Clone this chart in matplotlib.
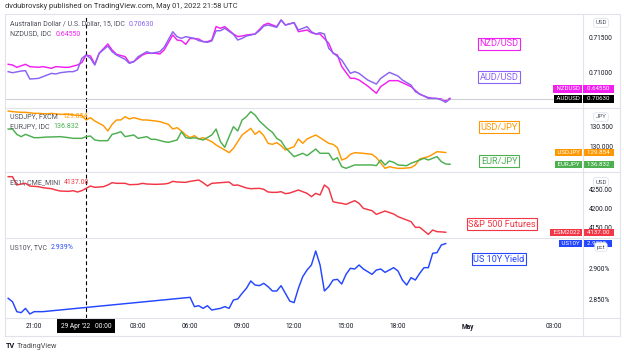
"""
TradingView style snapshot: AUD/NZD, USD/JPY & EUR/JPY, S&P 500 futures
and US 10Y yield on 15-minute bars, 28-29 Apr 2022.
"""

import matplotlib

matplotlib.use("Agg")
import matplotlib.pyplot as plt
from matplotlib.lines import Line2D
from matplotlib.patches import Rectangle
from matplotlib.ticker import FuncFormatter

plt.rcParams["font.family"] = ["Roboto", "DejaVu Sans"]

# 15-minute bar number, counted from 29 Apr '22 00:00 UTC
AUD_BARS = [-18, -17, -15, -14, -13, -11, -10, -8, -7, -6, -4, -3, -2, -1, 0, 1, 2, 3, 5, 6,
            7, 9, 10, 11, 12, 14, 15, 17, 18, 20, 21, 22, 23, 25, 26, 28, 29, 30, 31, 32,
            34, 35, 36, 37, 39, 40, 41, 42, 44, 45, 46, 48, 49, 51, 52, 53, 54, 55, 56, 57,
            59, 61, 62, 63, 65, 67, 68, 70, 72, 73, 75, 76, 78, 79, 81, 82, 83, 84]
AUD_VALUES = [0.71015, 0.71000, 0.71024, 0.71029, 0.70911, 0.70920, 0.70944, 0.70991, 0.70982, 0.71000,
              0.71015, 0.71015, 0.71038, 0.71203, 0.71250, 0.71203, 0.71109, 0.71273, 0.71377, 0.71297,
              0.71250, 0.71189, 0.71132, 0.71156, 0.71226, 0.71297, 0.71273, 0.71297, 0.71358, 0.71579,
              0.71509, 0.71485, 0.71509, 0.71485, 0.71452, 0.71429, 0.71448, 0.71593, 0.71593, 0.71627,
              0.71542, 0.71462, 0.71485, 0.71518, 0.71546, 0.71593, 0.71659, 0.71674, 0.71641, 0.71744,
              0.71674, 0.71706, 0.71603, 0.71650, 0.71579, 0.71546, 0.71565, 0.71546, 0.71344, 0.71283,
              0.71179, 0.70991, 0.71015, 0.70991, 0.70897, 0.70840, 0.70920, 0.71005, 0.70953, 0.70897,
              0.70826, 0.70732, 0.70671, 0.70638, 0.70638, 0.70615, 0.70582, 0.70630]

NZD_BARS = [-18, -17, -16, -14, -13, -11, -10, -8, -7, -5, -4, -2, -1, 0, 1, 2, 3, 5, 6, 7,
            9, 10, 11, 13, 14, 16, 17, 18, 20, 21, 22, 23, 24, 26, 27, 28, 29, 30, 31, 32,
            34, 35, 36, 37, 39, 41, 42, 44, 45, 46, 48, 49, 51, 52, 53, 54, 56, 57, 58, 59,
            61, 62, 63, 65, 67, 68, 70, 72, 73, 75, 77, 79, 80, 82, 83, 84]
NZD_VALUES = [0.64989, 0.64980, 0.64950, 0.64989, 0.64959, 0.64950, 0.64959, 0.64937, 0.64959, 0.64950,
              0.64950, 0.64980, 0.65010, 0.65109, 0.65096, 0.64989, 0.65131, 0.65251, 0.65173, 0.65118,
              0.65088, 0.65010, 0.65023, 0.65109, 0.65131, 0.65131, 0.65122, 0.65173, 0.65367, 0.65302,
              0.65294, 0.65247, 0.65324, 0.65315, 0.65281, 0.65281, 0.65302, 0.65475, 0.65453, 0.65475,
              0.65380, 0.65346, 0.65354, 0.65367, 0.65380, 0.65496, 0.65518, 0.65475, 0.65560, 0.65496,
              0.65526, 0.65410, 0.65431, 0.65397, 0.65380, 0.65380, 0.65260, 0.65131, 0.65109, 0.64959,
              0.64808, 0.64808, 0.64786, 0.64709, 0.64615, 0.64701, 0.64778, 0.64778, 0.64752, 0.64701,
              0.64602, 0.64559, 0.64550, 0.64541, 0.64520, 0.64550]

USDJPY_BARS = [-18, -17, -15, -14, -12, -11, -9, -8, -6, -4, -3, -1, 0, 1, 2, 4, 5, 6, 7, 8,
               9, 10, 11, 13, 14, 16, 17, 19, 20, 21, 22, 23, 24, 25, 26, 27, 29, 30, 32, 33,
               34, 35, 36, 38, 39, 40, 41, 42, 43, 44, 45, 46, 48, 49, 50, 51, 53, 54, 56, 57,
               58, 59, 60, 61, 62, 64, 66, 67, 69, 70, 71, 72, 73, 75, 76, 77, 79, 80, 81, 83]
USDJPY_VALUES = [130.893, 130.876, 130.859, 130.859, 130.834, 130.834, 130.818, 130.834, 130.809, 130.809,
                 130.793, 130.776, 130.668, 130.726, 130.643, 130.526, 130.393, 130.559, 130.668, 130.668,
                 130.751, 130.693, 130.726, 130.668, 130.668, 130.643, 130.626, 130.559, 130.443, 130.476,
                 130.393, 130.293, 130.226, 130.276, 130.193, 130.226, 130.126, 130.043, 129.918, 129.851,
                 129.959, 130.126, 130.293, 130.459, 130.309, 130.393, 130.276, 130.084, 130.059, 130.101,
                 130.026, 129.918, 130.001, 130.193, 130.084, 130.193, 130.293, 130.226, 130.084, 130.059,
                 129.976, 129.668, 129.709, 129.809, 129.851, 129.834, 129.809, 129.726, 129.459, 129.501,
                 129.476, 129.459, 129.459, 129.476, 129.543, 129.693, 129.751, 129.809, 129.876, 129.854]

EURJPY_BARS = [-18, -17, -16, -15, -14, -12, -11, -9, -8, -6, -4, -3, -1, 0, 1, 2, 3, 5, 6, 7,
               8, 9, 11, 12, 14, 15, 16, 18, 19, 21, 22, 23, 24, 25, 27, 29, 30, 31, 32, 33,
               34, 35, 36, 37, 38, 39, 40, 42, 43, 44, 45, 46, 48, 49, 50, 51, 53, 54, 56, 57,
               58, 59, 60, 61, 62, 64, 66, 67, 68, 69, 70, 71, 72, 74, 75, 77, 78, 79, 81, 82,
               83, 84]
EURJPY_VALUES = [137.760, 137.760, 137.620, 137.559, 137.620, 137.532, 137.532, 137.550, 137.550, 137.559,
                 137.532, 137.515, 137.515, 137.559, 137.576, 137.471, 137.453, 137.453, 137.620, 137.647,
                 137.690, 137.559, 137.603, 137.515, 137.559, 137.489, 137.489, 137.427, 137.410, 137.471,
                 137.690, 137.532, 137.515, 137.532, 137.471, 137.603, 137.760, 137.427, 137.278, 137.559,
                 137.822, 137.708, 137.997, 138.085, 138.216, 138.129, 137.971, 137.760, 137.673, 137.515,
                 137.445, 137.269, 137.033, 137.077, 137.121, 137.059, 137.234, 137.121, 137.121, 136.945,
                 137.006, 136.770, 136.726, 136.770, 136.814, 136.814, 136.814, 136.796, 136.945, 136.814,
                 136.919, 136.884, 136.814, 136.796, 136.858, 136.945, 136.989, 136.945, 137.033, 136.901,
                 136.840, 136.832]

ES_BARS = [-18, -17, -16, -15, -14, -13, -11, -10, -8, -7, -6, -4, -3, -2, -1, 0, 1, 2, 4, 5,
           6, 7, 9, 10, 12, 13, 14, 16, 18, 19, 20, 21, 23, 24, 26, 27, 28, 29, 31, 33,
           34, 35, 37, 38, 40, 41, 42, 43, 44, 45, 46, 47, 49, 50, 51, 52, 53, 54, 55, 56,
           57, 58, 59, 60, 62, 63, 64, 66, 67, 69, 71, 72, 73, 75, 76, 77, 79, 80, 81, 82, 83]
ES_VALUES = [4283.2, 4283.2, 4261.3, 4263.9, 4265.7, 4258.6, 4256.9, 4254.3, 4251.6, 4248.1,
             4245.5, 4244.6, 4246.4, 4242.9, 4246.4, 4252.5, 4258.6, 4255.2, 4256.9, 4261.3,
             4267.4, 4265.7, 4265.7, 4262.1, 4263.0, 4265.7, 4263.9, 4263.0, 4263.9, 4265.7,
             4270.9, 4269.2, 4268.3, 4270.9, 4274.4, 4267.4, 4258.6, 4265.7, 4267.4, 4269.2,
             4260.4, 4261.3, 4253.4, 4251.6, 4252.5, 4249.9, 4242.9, 4242.0, 4242.0, 4243.7,
             4238.5, 4240.2, 4248.1, 4243.7, 4239.4, 4230.6, 4239.4, 4235.0, 4261.3, 4252.5,
             4217.4, 4214.8, 4213.1, 4210.4, 4220.1, 4213.1, 4199.9, 4193.8, 4184.1, 4192.9,
             4185.0, 4178.0, 4173.6, 4164.8, 4150.0, 4150.0, 4131.5, 4142.9, 4138.5, 4138.0, 4137.0]

# the cash bond market has no prints overnight, so the line jumps from bar -10 to 24
US10Y_BARS = [-18, -17, -16, -15, -14, -13, -12, -10, 24, 25, 26, 27, 28, 29, 31, 32, 33, 34, 35, 36,
              37, 38, 39, 40, 41, 42, 43, 44, 45, 46, 47, 48, 49, 50, 51, 52, 53, 54, 55, 56,
              57, 58, 59, 60, 61, 62, 63, 64, 66, 67, 68, 69, 70, 71, 72, 73, 74, 75, 76, 77,
              78, 79, 80, 81, 82, 83]
US10Y_VALUES = [2.8526, 2.8473, 2.8316, 2.8300, 2.8368, 2.8279, 2.8316, 2.8316, 2.8542, 2.8395,
                2.8410, 2.8368, 2.8410, 2.8342, 2.8368, 2.8395, 2.8368, 2.8500, 2.8516, 2.8605,
                2.8684, 2.8800, 2.8736, 2.8726, 2.8763, 2.8710, 2.8642, 2.8642, 2.8726, 2.8605,
                2.8484, 2.8458, 2.8684, 2.8868, 2.8973, 2.9052, 2.9273, 2.9052, 2.8642, 2.8710,
                2.8815, 2.8826, 2.8752, 2.8905, 2.9000, 2.8989, 2.9052, 2.8989, 2.8905, 2.8973,
                2.8989, 2.8936, 2.8973, 2.9010, 2.8957, 2.8815, 2.8736, 2.8852, 2.8815, 2.8921,
                2.9010, 2.9010, 2.9236, 2.9247, 2.9368, 2.9390]

TIME_TICKS = [-12, 12, 24, 36, 48, 60, 72, 88, 108]
TIME_LABELS = ["21:00", "03:00", "06:00", "09:00", "12:00", "15:00", "18:00", "May", "03:00"]
CROSSHAIR_LABEL = "29 Apr '22   00:00"

W, H = 624, 354
PLOT_LEFT, PLOT_RIGHT = 6, 583
XLIM = (-18.5, 114.7)

TEXT = "#131722"
GREY = "#50535e"
BORDER = "#e0e3eb"
AUD_C = "#8a63f2"
NZD_C = "#f21ff0"
USDJPY_C = "#ff9800"
EURJPY_C = "#4caf50"
ES_C = "#f23645"
US10Y_C = "#2446ff"


def fx(px):
    return px / W


def fy(py):
    return 1 - py / H


def right_ticks(ax):
    # twinx() pushes the host's ticks to the left, so this is re-applied after overlays
    ax.yaxis.tick_right()
    ax.yaxis.set_label_position("right")
    ax.tick_params(axis="y", which="both", left=False, labelleft=False, right=True, labelright=True,
                   length=0, pad=4.3, labelsize=4.7, labelcolor=TEXT)


def make_pane(fig, top, bottom, ylim, ticks, fmt):
    ax = fig.add_axes([fx(PLOT_LEFT), fy(bottom), (PLOT_RIGHT - PLOT_LEFT) / W, (bottom - top) / H])
    ax.set_xlim(*XLIM)
    ax.set_ylim(*ylim)
    for s in ax.spines.values():
        s.set_visible(False)
    ax.set_yticks(ticks)
    ax.yaxis.set_major_formatter(FuncFormatter(lambda v, _: fmt.format(v)))
    right_ticks(ax)
    ax.tick_params(axis="x", length=0, bottom=False, labelbottom=False)
    ax.axvline(0, color="black", lw=0.8, ls=(0, (3.5, 2.5)), zorder=1)
    return ax


def overlay(ax, ylim):
    tw = ax.twinx()
    tw.set_xlim(*XLIM)
    tw.set_ylim(*ylim)
    tw.set_yticks([])
    for s in tw.spines.values():
        s.set_visible(False)
    right_ticks(ax)
    return tw


def price_tag(ax, value, name, text, color, dy=0):
    common = dict(xycoords=ax.get_yaxis_transform(), textcoords="offset points",
                  va="center", fontsize=4.4, color="white", annotation_clip=False, zorder=6)
    ax.annotate(f" {name} ", xy=(1, value), xytext=(-1.3, dy), ha="right",
                bbox=dict(boxstyle="square,pad=0.2", fc=color, ec="none"), **common)
    ax.annotate(f"  {text}  ", xy=(1, value), xytext=(1.0, dy), ha="left",
                bbox=dict(boxstyle="square,pad=0.2", fc=color, ec="none"), **common)


def legend_line(fig, ax, y, label, value, color):
    t = fig.text(fx(10), fy(y), label, fontsize=5.0, color=GREY, va="center")
    ax.annotate(value, xy=(1, 0.5), xycoords=t, xytext=(3, 0), textcoords="offset points",
                va="center", ha="left", fontsize=5.0, color=color, annotation_clip=False)


def tag_box(fig, x, y, text, color, size=6.6):
    fig.text(fx(x), fy(y), text, fontsize=size, color=color, ha="center", va="center", zorder=7,
             bbox=dict(boxstyle="square,pad=0.18", fc="white", ec=color, lw=0.8))


def unit_box(fig, y, text):
    fig.text(fx(601), fy(y), text, fontsize=4.4, color=GREY, ha="center", va="center", zorder=8,
             bbox=dict(boxstyle="round,pad=0.3,rounding_size=0.4", fc="white", ec=BORDER, lw=0.6))


def main():
    fig = plt.figure(figsize=(W / 100, H / 100), dpi=100)
    fig.patch.set_facecolor("white")

    # pane 1: AUD/USD with NZD/USD on a hidden overlay scale
    ax1 = make_pane(fig, 15, 108, (0.70502, 0.71815), [0.710, 0.715], "{:.5f}")
    ax1.axhline(AUD_VALUES[-1], color="#c3c6ce", lw=0.6, zorder=1)
    nz = overlay(ax1, (0.64425, 0.65625))
    nz.plot(NZD_BARS, NZD_VALUES, color=NZD_C, lw=1.05, zorder=3)
    ax1.set_zorder(nz.get_zorder() + 1)
    ax1.patch.set_visible(False)
    ax1.plot(AUD_BARS, AUD_VALUES, color=AUD_C, lw=1.05, zorder=3)
    price_tag(ax1, AUD_VALUES[-1], "AUDUSD", f"{AUD_VALUES[-1]:.5f}", "black")
    price_tag(ax1, AUD_VALUES[-1], "NZDUSD", f"{NZD_VALUES[-1]:.5f}", NZD_C, dy=7.3)

    # pane 2: USD/JPY with EUR/JPY overlay
    ax2 = make_pane(fig, 108, 172, (129.3675, 130.9675), [130.0, 130.5], "{:.3f}")
    ax2.plot(USDJPY_BARS, USDJPY_VALUES, color=USDJPY_C, lw=1.05, zorder=3)
    ej = overlay(ax2, (136.629, 138.313))
    ej.plot(EURJPY_BARS, EURJPY_VALUES, color=EURJPY_C, lw=1.05, zorder=3)
    price_tag(ax2, USDJPY_VALUES[-1], "USDJPY", f"{USDJPY_VALUES[-1]:.3f}", USDJPY_C)
    price_tag(ej, EURJPY_VALUES[-1], "EURJPY", f"{EURJPY_VALUES[-1]:.3f}", EURJPY_C)

    # pane 3: E-mini S&P 500
    ax3 = make_pane(fig, 172, 238, (4121.9, 4295.5), [4150, 4200, 4250], "{:.2f}")
    ax3.plot(ES_BARS, ES_VALUES, color=ES_C, lw=1.05, zorder=3)
    price_tag(ax3, ES_VALUES[-1], "ESM2022", f"{ES_VALUES[-1]:.2f}", ES_C)

    # pane 4: US 10Y yield, carries the time axis
    ax4 = make_pane(fig, 238, 318, (2.8216, 2.9478), [2.85, 2.90], "{:.3f}%")
    ax4.plot(US10Y_BARS, US10Y_VALUES, color=US10Y_C, lw=1.05, zorder=3)
    price_tag(ax4, US10Y_VALUES[-1], "US10Y", f"{US10Y_VALUES[-1]:.3f}%", US10Y_C)
    ax4.set_xticks(TIME_TICKS)
    ax4.set_xticklabels(TIME_LABELS)
    ax4.tick_params(axis="x", bottom=True, labelbottom=True, length=0, pad=3.6,
                    labelsize=4.7, labelcolor=TEXT)
    for lbl in ax4.get_xticklabels():
        if lbl.get_text() == "May":
            lbl.set_fontweight("bold")
    ax4.annotate(CROSSHAIR_LABEL, xy=(0, 0), xycoords=ax4.get_xaxis_transform(),
                 xytext=(0, -6.0), textcoords="offset points", ha="center", va="center",
                 fontsize=4.7, color="white", annotation_clip=False, zorder=6,
                 bbox=dict(boxstyle="square,pad=0.55", fc="black", ec="none"))

    # legends
    legend_line(fig, ax1, 24, "Australian Dollar / U.S. Dollar, 15, IDC", f"{AUD_VALUES[-1]:.5f}", AUD_C)
    legend_line(fig, ax1, 34, "NZDUSD, IDC", f"{NZD_VALUES[-1]:.5f}", NZD_C)
    legend_line(fig, ax2, 117, "USDJPY, FXCM", f"{USDJPY_VALUES[-1]:.3f}", USDJPY_C)
    legend_line(fig, ax2, 126.5, "EURJPY, IDC", f"{EURJPY_VALUES[-1]:.3f}", EURJPY_C)
    legend_line(fig, ax3, 182.5, "ES1!, CME_MINI", f"{ES_VALUES[-1]:.2f}", ES_C)
    legend_line(fig, ax4, 247.5, "US10Y, TVC", f"{US10Y_VALUES[-1]:.3f}%", US10Y_C)

    # author's boxed labels
    tag_box(fig, 499, 44, "NZD/USD", NZD_C)
    tag_box(fig, 499, 77, "AUD/USD", AUD_C)
    tag_box(fig, 499, 127, "USD/JPY", USDJPY_C)
    tag_box(fig, 499, 161, "EUR/JPY", EURJPY_C)
    tag_box(fig, 502, 224, "S&P 500 Futures", ES_C)
    tag_box(fig, 499, 259, "US 10Y Yield", US10Y_C)

    unit_box(fig, 23, "USD")
    unit_box(fig, 117, "JPY")
    unit_box(fig, 182, "USD")
    unit_box(fig, 247, "pct")

    # frame, pane separators and price-axis divider
    fig.add_artist(Rectangle((fx(5), fy(336)), (620 - 5) / W, (336 - 14) / H, transform=fig.transFigure,
                             fill=False, ec=BORDER, lw=0.8, zorder=0))
    for y in (108, 172, 238, 318):
        fig.add_artist(Line2D([fx(5), fx(620)], [fy(y), fy(y)], transform=fig.transFigure,
                              color=BORDER, lw=0.8, zorder=0.5))
    fig.add_artist(Line2D([fx(PLOT_RIGHT), fx(PLOT_RIGHT)], [fy(14), fy(336)], transform=fig.transFigure,
                          color=BORDER, lw=0.8, zorder=0.5))

    fig.text(fx(5), fy(7), "dvdubrovsky published on TradingView.com, May 01, 2022 21:58 UTC",
             fontsize=5.4, color="#333333", va="center")
    fig.text(fx(6), fy(346), "TV", fontsize=5.2, color=TEXT, fontweight="bold", va="center")
    fig.text(fx(17), fy(346), "TradingView", fontsize=5.2, color="#4a4a4a", va="center")

    fig.savefig("out.png", dpi=100, facecolor="white")
    plt.close(fig)
    return 0


if __name__ == "__main__":
    raise SystemExit(main())
